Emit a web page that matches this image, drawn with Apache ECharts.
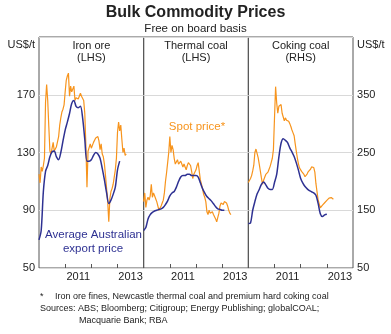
<!DOCTYPE html>
<html>
<head>
<meta charset="utf-8">
<script src="https://cdn.jsdelivr.net/npm/echarts@6/dist/echarts.min.js"></script>
<style>
  html, body { margin: 0; padding: 0; background: #fff; }
  #chart { width: 391px; height: 334px; }
</style>
</head>
<body>
<div id="chart"></div>
<script>
// ---- Data -------------------------------------------------------------
// Spot prices: twice-monthly observations starting January 2010 (US$/t)
const ironSpot = [115,109,120,117,121,126,165,177,166,148,
  131,129,133,137,131,130,134,133,141,149,
  154,158,160,163,172,180,183,185,169,176,
  172,173,176,166,168,169,167,168,171,169,
  170,166,157,135,106,131,130,136,133,133,
  137,138,140,141,141,138,132,136,129,127,
  122,114,105,96,82,98,103,105,108,113,
  118,126,144,151,145,149,139,130,133,128,129];
const thermalSpot = [96,102,92,97,99,97,100,108,99,102,
  100,98,96,93,90,89,93,95,97,102,
  110,116,123,130,141,130,135,132,126,122,
  121,125,122,121,124,122,120,122,120,118,
  121,123,124,121,117,112,115,114,118,121,
  123,117,111,108,105,101,99,96,89,87,
  90,88,89,89,87,86,84,82,85,88,
  93,95,96,94,96,97,95,93,90,88,87];
const cokingSpot = [198,200,205,210,218,228,250,256,254,241,
  230,218,206,195,202,207,212,214,216,221,
  226,233,240,255,310,364,336,318,330,330,
  333,318,319,305,310,306,304,304,300,295,
  289,284,279,265,252,240,230,223,221,217,
  214,212,208,210,213,217,220,221,225,226,
  224,216,196,182,168,161,154,156,159,161,
  163,165,167,169,171,173,172,171,169];

// Average Australian export prices: monthly starting January 2010 (US$/t)
const ironExport = [69.5,76,103,117,121,127,130.5,131,127,125,
  130,138,145.5,151,157,164,166,162,161,162,
  154,139,124,124,125,128,130,129,126,119,
  111,102,94.6,97,101,106,118,124];
const thermalExport = [76,78,84,87,88.5,89.5,90,90.5,91,92,
  94,96.5,100,102,103,106,110,113,114,114,
  115,115,114,114,114,113,109,105,102,99.5,
  98,96.5,94.5,92.5,91,90.5,90,90];
const cokingExport = [127,128,150,165,178,186,195,199,194,188,
  186,186,198,212,242,266,274,271,267,258,
  251,243,232,219,205,197,191,187,184,182,
  180,176,162,144,139,142,143];

const startYear = 2010;
const endYear = 2014;
const tickYears = [2011, 2012, 2013];
const labelYears = [2011, 2013];
const panelNames = ['Iron ore', 'Thermal coal', 'Coking coal'];
const panelSides = ['(LHS)', '(LHS)', '(RHS)'];
const footnotes = [
  'Iron ore fines, Newcastle thermal coal and premium hard coking coal',
  'Sources: ABS; Bloomberg; Citigroup; Energy Publishing; globalCOAL;',
  'Macquarie Bank; RBA'
];

// ---- Styling ----------------------------------------------------------
const FONT = 'Liberation Sans, Arial, Helvetica, sans-serif';
const ORANGE = '#F7941D';
const NAVY = '#2E3192';
const FRAME = '#555555';
const GRIDLINE = '#d9d9d9';
const TEXT = '#222222';

const plotTop = 37, plotBottom = 66;
const plotLeft = 39, panelWidth = 104.67;

// Pair each value with its date (fraction of a year)
function pairs(values, perYear) {
  return values.map((v, i) => [startYear + i / perYear, v]);
}

const grids = [0, 1, 2].map(i => ({
  left: plotLeft + i * panelWidth,
  width: panelWidth,
  top: plotTop,
  bottom: plotBottom,
  show: true,
  borderColor: FRAME,
  borderWidth: 1,
  backgroundColor: 'transparent'
}));

const xAxes = [0, 1, 2].map(i => ({
  type: 'value',
  gridIndex: i,
  min: startYear,
  max: endYear,
  axisLine: { show: false },
  splitLine: { show: false },
  axisTick: {
    show: true, inside: true, length: 4,
    lineStyle: { color: FRAME, width: 1 },
    customValues: tickYears
  },
  axisLabel: {
    show: true,
    customValues: labelYears.map(y => y + 0.5),
    formatter: v => String(Math.floor(v)),
    fontSize: 11, fontFamily: FONT, color: TEXT, margin: 3
  }
}));

function yAxisFor(i) {
  const right = i === 2;
  return {
    type: 'value',
    gridIndex: i,
    position: right ? 'right' : 'left',
    min: 50,
    max: right ? 450 : 210,
    interval: right ? 100 : 40,
    axisLine: { show: false },
    axisTick: { show: false },
    splitLine: { show: true, lineStyle: { color: GRIDLINE, width: 1 } },
    axisLabel: {
      show: i !== 1,
      showMaxLabel: false,
      fontSize: 11, fontFamily: FONT, color: TEXT, margin: 4
    }
  };
}

const spotSets = [ironSpot, thermalSpot, cokingSpot];
const exportSets = [ironExport, thermalExport, cokingExport];
const series = [];
[0, 1, 2].forEach(i => {
  series.push({
    type: 'line', xAxisIndex: i, yAxisIndex: i,
    data: pairs(spotSets[i], 24),
    showSymbol: false, silent: true,
    lineStyle: { color: ORANGE, width: 1.2 },
    z: 2
  });
  series.push({
    type: 'line', xAxisIndex: i, yAxisIndex: i,
    data: pairs(exportSets[i], 12),
    showSymbol: false, silent: true, smooth: 0.3,
    lineStyle: { color: NAVY, width: 1.5 },
    z: 3
  });
});

function txt(text, x, y, opts) {
  const o = opts || {};
  return {
    type: 'text', silent: true, z: 10,
    style: {
      text: text, x: x, y: y,
      textAlign: o.align || 'center', align: o.align || 'center',
      textVerticalAlign: 'middle', verticalAlign: 'middle',
      font: (o.weight || 'normal') + ' ' + (o.size || 11) + 'px ' + FONT,
      fill: o.color || TEXT
    }
  };
}

const graphics = [
  txt('Bulk Commodity Prices', 195.5, 12.5, { weight: 'bold', size: 16 }),
  txt('Free on board basis', 195.5, 29, { size: 11.5 }),
  txt('US$/t', 35, 45, { align: 'right' }),
  txt('US$/t', 357, 45, { align: 'left' }),
  txt('Spot price*', 197, 127, { color: ORANGE, size: 11.5 }),
  txt('Average Australian', 93.5, 235, { color: NAVY, size: 11.5 }),
  txt('export price', 93, 249, { color: NAVY, size: 11.5 }),
  txt('*', 40, 297, { align: 'left', size: 9 }),
  txt(footnotes[0], 55, 296.5, { align: 'left', size: 9 }),
  txt(footnotes[1], 40, 308.5, { align: 'left', size: 9 }),
  txt(footnotes[2], 79, 320.5, { align: 'left', size: 9 })
];
[0, 1, 2].forEach(i => {
  const cx = plotLeft + (i + 0.5) * panelWidth;
  graphics.push(txt(panelNames[i], cx, 46));
  graphics.push(txt(panelSides[i], cx, 57.5));
});

const chart = echarts.init(document.getElementById('chart'), null, { renderer: 'canvas' });
chart.setOption({
  animation: false,
  backgroundColor: '#ffffff',
  textStyle: { fontFamily: FONT },
  grid: grids,
  xAxis: xAxes,
  yAxis: [0, 1, 2].map(yAxisFor),
  series: series,
  graphic: { elements: graphics }
});
</script>
</body>
</html>
